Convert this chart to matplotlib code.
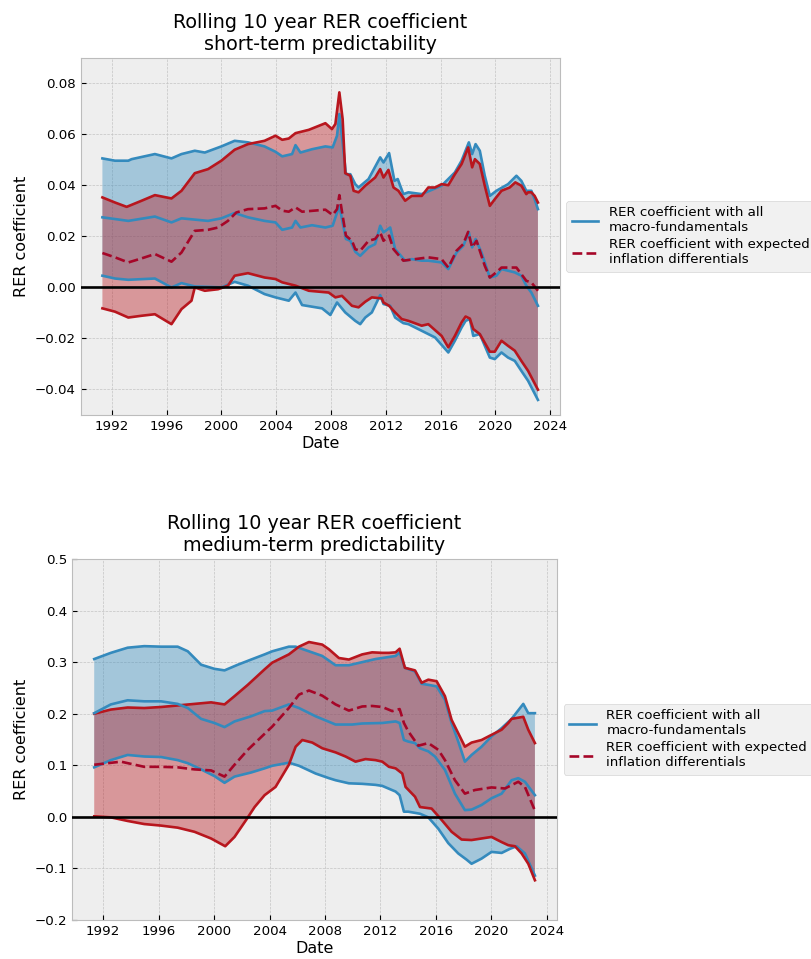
import numpy as np
import matplotlib
matplotlib.use("Agg")
import matplotlib.pyplot as plt
from matplotlib.lines import Line2D
from matplotlib.ticker import MultipleLocator, FormatStrFormatter

# ---------------- short-term predictability (rolling 10y window) ----------------
st_macro_hi_yr = [1991.32, 1992.24, 1993.21, 1993.45, 1995.15, 1996.36, 1997.09, 1998.06, 1998.79, 2000.00,
                  2000.97, 2001.94, 2003.15, 2003.95, 2004.44, 2005.16, 2005.41, 2005.77, 2006.62, 2007.59,
                  2008.12, 2008.44, 2008.61, 2008.85, 2009.09, 2009.41, 2009.77, 2010.01, 2010.74, 2011.59,
                  2011.83, 2012.24, 2012.63, 2012.87, 2013.28, 2013.65, 2014.62, 2016.07, 2017.04, 2017.53,
                  2018.06, 2018.30, 2018.55, 2018.86, 2019.22, 2019.59, 2020.07, 2020.92, 2021.53, 2021.89,
                  2022.25, 2022.62, 2022.86, 2023.10]
st_macro_hi = [.0506, .0497, .0497, .0503, .0523, .0506, .0523, .0536, .0529, .0553,
               .0575, .0569, .0553, .0532, .0514, .0523, .0558, .0529, .0542, .0553,
               .0549, .0595, .0680, .0569, .0444, .0444, .0405, .0392, .0425, .0510,
               .0490, .0527, .0418, .0425, .0366, .0373, .0366, .0399, .0451, .0497,
               .0569, .0523, .0562, .0536, .0438, .0359, .0379, .0405, .0438, .0418,
               .0379, .0379, .0346, .0307]

st_macro_mid_yr = [1991.32, 1993.21, 1995.15, 1996.36, 1997.09, 1999.03, 2000.00, 2000.97, 2001.94, 2003.15,
                   2003.95, 2004.44, 2005.16, 2005.41, 2005.77, 2006.62, 2007.59, 2008.12, 2008.61, 2008.85,
                   2009.09, 2009.41, 2009.77, 2010.13, 2010.74, 2011.22, 2011.59, 2011.83, 2012.32, 2012.68,
                   2013.41, 2013.89, 2014.62, 2015.10, 2016.07, 2016.56, 2017.16, 2017.65, 2018.06, 2018.30,
                   2018.55, 2018.98, 2019.59, 2020.07, 2020.44, 2021.41, 2021.89, 2022.25, 2022.62, 2023.10]
st_macro_mid = [.0275, .0261, .0278, .0255, .0271, .0261, .0271, .0292, .0275, .0261,
                .0255, .0226, .0235, .0261, .0235, .0244, .0235, .0242, .0320, .0255,
                .0190, .0183, .0140, .0124, .0157, .0170, .0242, .0216, .0235, .0150,
                .0105, .0111, .0105, .0105, .0098, .0072, .0137, .0163, .0216, .0157,
                .0190, .0137, .0039, .0046, .0072, .0059, .0046, .0007, -.0020, -.0072]

st_macro_lo_yr = [1991.32, 1992.24, 1993.21, 1995.15, 1996.36, 1997.09, 1998.06, 2000.00, 2000.97, 2001.94,
                  2003.15, 2003.95, 2004.92, 2005.41, 2005.89, 2007.35, 2007.95, 2008.44, 2009.04, 2009.77,
                  2010.13, 2010.50, 2010.98, 2011.59, 2011.83, 2012.32, 2012.68, 2013.28, 2013.65, 2014.62,
                  2015.59, 2016.56, 2017.04, 2017.53, 2017.82, 2018.13, 2018.38, 2018.86, 2019.59, 2019.95,
                  2020.44, 2020.92, 2021.41, 2021.89, 2022.38, 2023.10]
st_macro_lo = [.0046, .0035, .0030, .0035, .0000, .0017, .0004, .0000, .0022, .0007,
               -.0026, -.0039, -.0052, -.0020, -.0069, -.0082, -.0108, -.0059, -.0098, -.0131,
               -.0144, -.0118, -.0098, -.0030, -.0065, -.0072, -.0118, -.0140, -.0144, -.0170,
               -.0196, -.0255, -.0209, -.0157, -.0131, -.0124, -.0190, -.0183, -.0275, -.0281,
               -.0255, -.0275, -.0288, -.0327, -.0366, -.0441]

st_exp_hi_yr = [1991.32, 1992.24, 1993.09, 1994.18, 1995.15, 1996.36, 1997.09, 1998.06, 1999.03, 2000.00,
                2000.97, 2001.94, 2003.15, 2003.95, 2004.44, 2004.92, 2005.41, 2006.38, 2007.59, 2008.07,
                2008.32, 2008.61, 2008.85, 2009.04, 2009.41, 2009.65, 2010.01, 2010.50, 2011.22, 2011.59,
                2011.83, 2012.19, 2012.56, 2012.92, 2013.41, 2013.89, 2014.62, 2015.10, 2015.59, 2016.07,
                2016.56, 2017.04, 2017.53, 2018.01, 2018.30, 2018.50, 2018.86, 2019.22, 2019.59, 2019.95,
                2020.44, 2021.04, 2021.45, 2021.89, 2022.25, 2022.38, 2022.62, 2022.86, 2023.10]
st_exp_hi = [.0353, .0333, .0316, .0340, .0362, .0349, .0379, .0448, .0464, .0497,
             .0540, .0562, .0575, .0595, .0579, .0584, .0605, .0618, .0644, .0621,
             .0641, .0765, .0660, .0448, .0438, .0379, .0373, .0399, .0431, .0464,
             .0431, .0461, .0392, .0379, .0340, .0359, .0359, .0392, .0392, .0405,
             .0401, .0444, .0484, .0549, .0471, .0503, .0484, .0399, .0320, .0346,
             .0379, .0392, .0412, .0399, .0366, .0373, .0373, .0359, .0333]

st_exp_mid_yr = [1991.32, 1992.24, 1993.21, 1994.18, 1995.15, 1996.36, 1997.09, 1998.06, 1999.03, 1999.76,
                 2000.48, 2001.09, 2001.94, 2003.15, 2003.95, 2004.44, 2004.92, 2005.41, 2005.89, 2007.59,
                 2008.12, 2008.44, 2008.61, 2008.85, 2009.09, 2009.53, 2009.77, 2010.13, 2010.74, 2011.22,
                 2011.59, 2011.83, 2012.24, 2012.56, 2013.28, 2014.13, 2015.10, 2016.07, 2016.56, 2017.16,
                 2017.65, 2018.01, 2018.30, 2018.62, 2019.22, 2019.59, 2020.19, 2020.44, 2021.04, 2021.53,
                 2021.89, 2022.25, 2022.62, 2023.10]
st_exp_mid = [.0135, .0118, .0098, .0114, .0131, .0101, .0137, .0222, .0226, .0235,
              .0261, .0294, .0307, .0310, .0320, .0301, .0297, .0314, .0297, .0305,
              .0284, .0307, .0362, .0281, .0203, .0183, .0150, .0144, .0183, .0190,
              .0216, .0183, .0203, .0150, .0105, .0111, .0118, .0111, .0078, .0144,
              .0170, .0218, .0157, .0183, .0085, .0039, .0065, .0078, .0078, .0078,
              .0052, .0026, .0020, -.0013]

st_exp_lo_yr = [1991.32, 1992.24, 1993.21, 1994.18, 1995.15, 1996.36, 1997.09, 1997.82, 1998.06, 1998.79,
                1999.76, 2000.48, 2000.97, 2001.94, 2003.15, 2003.95, 2004.44, 2005.41, 2006.38, 2007.83,
                2008.32, 2008.80, 2009.53, 2010.01, 2010.50, 2010.98, 2011.71, 2011.83, 2012.24, 2012.68,
                2013.16, 2013.65, 2014.62, 2015.10, 2016.07, 2016.56, 2017.04, 2017.53, 2017.82, 2018.13,
                2018.38, 2018.86, 2019.59, 2019.95, 2020.44, 2020.92, 2021.41, 2021.89, 2022.38, 2023.10]
st_exp_lo = [-.0082, -.0095, -.0118, -.0111, -.0105, -.0144, -.0085, -.0052, .0000, -.0013,
             -.0007, .0007, .0046, .0056, .0039, .0033, .0020, .0007, -.0013, -.0020,
             -.0039, -.0033, -.0072, -.0078, -.0056, -.0039, -.0043, -.0059, -.0072, -.0098,
             -.0124, -.0131, -.0150, -.0144, -.0190, -.0235, -.0190, -.0137, -.0114, -.0122,
             -.0163, -.0183, -.0252, -.0252, -.0209, -.0229, -.0248, -.0288, -.0327, -.0401]

# ---------------- medium-term predictability (rolling 10y window) ----------------
mt_macro_hi_yr = [1991.35, 1992.55, 1993.76, 1994.96, 1996.17, 1997.37, 1998.10, 1999.06, 2000.02, 2000.75,
                  2001.71, 2002.67, 2003.64, 2004.19, 2005.39, 2005.88, 2006.84, 2007.80, 2008.76, 2009.72,
                  2010.68, 2011.64, 2012.61, 2013.09, 2013.38, 2013.76, 2014.49, 2014.97, 2015.45, 2016.05,
                  2016.65, 2017.13, 2017.61, 2018.09, 2018.57, 2019.29, 2020.01, 2020.74, 2021.46, 2022.30,
                  2022.66, 2023.14]
mt_macro_hi = [.306, .318, .328, .331, .330, .330, .321, .295, .287, .284,
               .295, .305, .315, .321, .330, .330, .321, .312, .294, .294,
               .300, .306, .310, .312, .319, .289, .282, .258, .256, .253,
               .227, .182, .146, .107, .120, .136, .156, .172, .190, .219,
               .201, .201]

mt_macro_mid_yr = [1991.35, 1992.55, 1993.76, 1994.96, 1996.17, 1997.37, 1998.10, 1999.06, 2000.02, 2000.75,
                   2001.47, 2002.67, 2003.64, 2004.19, 2005.39, 2006.12, 2007.32, 2008.76, 2009.96, 2010.68,
                   2012.13, 2013.09, 2013.38, 2013.69, 2014.00, 2014.49, 2014.85, 2015.45, 2015.93, 2016.65,
                   2017.37, 2018.09, 2018.57, 2019.29, 2020.01, 2020.74, 2021.46, 2021.94, 2022.42, 2023.14]
mt_macro_mid = [.201, .218, .226, .224, .224, .219, .211, .190, .182, .174,
                .185, .195, .205, .206, .218, .211, .195, .179, .179, .181,
                .182, .185, .182, .149, .146, .143, .133, .127, .117, .091,
                .045, .013, .014, .023, .036, .045, .071, .075, .068, .042]

mt_macro_lo_yr = [1991.35, 1992.55, 1993.76, 1994.96, 1996.17, 1997.37, 1998.10, 1999.06, 2000.02, 2000.75,
                  2001.47, 2002.67, 2003.64, 2004.19, 2005.39, 2006.12, 2007.32, 2008.28, 2008.76, 2009.72,
                  2010.68, 2011.64, 2012.13, 2013.09, 2013.38, 2013.69, 2014.00, 2014.85, 2015.45, 2016.17,
                  2016.89, 2017.61, 2018.21, 2018.57, 2019.29, 2020.01, 2020.74, 2021.34, 2021.82, 2022.42,
                  2023.14]
mt_macro_lo = [.096, .110, .120, .117, .116, .110, .104, .092, .079, .066,
               .078, .086, .094, .099, .105, .099, .084, .075, .071, .065,
               .064, .062, .060, .049, .042, .010, .010, .006, -.001, -.023,
               -.051, -.071, -.083, -.091, -.081, -.068, -.070, -.062, -.057, -.071,
               -.114]

mt_exp_hi_yr = [1991.35, 1992.55, 1993.76, 1994.96, 1996.17, 1997.37, 1998.58, 1999.78, 2000.75, 2001.47,
                2002.43, 2003.64, 2004.19, 2005.39, 2006.12, 2006.84, 2007.80, 2008.28, 2009.00, 2009.72,
                2010.68, 2011.40, 2012.13, 2012.61, 2013.09, 2013.38, 2013.76, 2014.49, 2014.97, 2015.45,
                2016.05, 2016.65, 2017.13, 2017.61, 2018.09, 2018.57, 2019.29, 2020.01, 2020.74, 2021.22,
                2021.46, 2022.30, 2022.66, 2023.14]
mt_exp_hi = [.200, .208, .212, .211, .213, .216, .219, .222, .218, .234,
             .256, .286, .299, .315, .330, .339, .334, .325, .308, .305,
             .315, .319, .318, .318, .319, .326, .289, .284, .260, .266,
             .263, .234, .188, .162, .136, .144, .149, .159, .169, .182,
             .190, .194, .169, .143]

mt_exp_mid_yr = [1991.35, 1993.28, 1994.96, 1996.17, 1997.37, 1998.58, 1999.78, 2000.75, 2001.47, 2002.43,
                 2003.64, 2004.19, 2005.39, 2006.12, 2006.84, 2007.80, 2008.76, 2009.72, 2010.68, 2011.40,
                 2012.13, 2012.85, 2013.38, 2013.69, 2014.00, 2014.73, 2015.45, 2016.17, 2016.65, 2017.37,
                 2018.09, 2018.81, 2020.01, 2020.98, 2021.94, 2022.42, 2023.14]
mt_exp_mid = [.101, .107, .097, .097, .096, .092, .090, .078, .101, .130,
              .161, .175, .211, .237, .245, .235, .218, .206, .214, .215,
              .213, .205, .209, .182, .166, .138, .143, .130, .110, .071,
              .045, .052, .057, .055, .068, .058, .012]

mt_exp_lo_yr = [1991.35, 1992.55, 1993.76, 1994.96, 1996.17, 1997.37, 1998.58, 1999.78, 2000.39, 2000.80,
                2001.47, 2002.31, 2002.92, 2003.64, 2004.43, 2005.39, 2005.88, 2006.36, 2007.08, 2007.80,
                2008.76, 2009.48, 2010.20, 2010.92, 2011.64, 2012.13, 2012.61, 2013.09, 2013.57, 2013.81,
                2014.49, 2014.85, 2015.69, 2016.41, 2017.13, 2017.85, 2018.57, 2019.29, 2020.01, 2020.74,
                2021.22, 2021.70, 2022.18, 2022.66, 2023.14]
mt_exp_lo = [.001, -.001, -.008, -.014, -.017, -.021, -.029, -.042, -.051, -.057,
             -.039, -.006, .019, .042, .058, .101, .136, .149, .144, .133,
             .125, .117, .107, .112, .110, .107, .097, .094, .084, .058,
             .039, .019, .016, -.006, -.029, -.044, -.045, -.042, -.039, -.049,
             -.055, -.057, -.071, -.091, -.123]

legend_labels = ["RER coefficient with all\nmacro-fundamentals",
                 "RER coefficient with expected\ninflation differentials"]

# ---------------- styling ----------------
plt.style.use("bmh")
plt.rcParams["font.family"] = ["DejaVu Sans"]
plt.rcParams["font.size"] = 9.6
plt.rcParams["grid.color"] = "#c4c4c4"

BLUE = "#348ABD"
RED = "#B8161E"
RED_DARK = "#A60628"


def band(ax, hi_x, hi_y, mid_x, mid_y, lo_x, lo_y, color, mid_color, mid_style):
    poly_x = np.concatenate([hi_x, lo_x[::-1]])
    poly_y = np.concatenate([hi_y, lo_y[::-1]])
    ax.fill(poly_x, poly_y, color=color, alpha=0.4, linewidth=0, zorder=2)
    ax.plot(hi_x, hi_y, color=color, lw=1.9, zorder=3)
    ax.plot(lo_x, lo_y, color=color, lw=1.9, zorder=3)
    ax.plot(mid_x, mid_y, color=mid_color, lw=1.9, ls=mid_style, zorder=4)


def panel(ax, macro, expected, title, ylim):
    band(ax, *[np.asarray(a) for a in macro], BLUE, BLUE, "-")
    band(ax, *[np.asarray(a) for a in expected], RED, RED_DARK, "--")
    ax.axhline(0, color="black", lw=1.9, zorder=5)
    ax.set_ylim(*ylim)
    ax.xaxis.set_major_locator(MultipleLocator(4))
    ax.xaxis.set_major_formatter(FormatStrFormatter("%d"))
    ax.set_title(title)
    ax.set_xlabel("Date", labelpad=2)
    ax.set_ylabel("RER coefficient")
    handles = [Line2D([], [], color=BLUE, lw=1.9),
               Line2D([], [], color=RED_DARK, lw=1.9, ls="--")]
    ax.legend(handles, legend_labels, loc="center left", bbox_to_anchor=(1.0, 0.5),
              labelspacing=0.3)


fig = plt.figure(figsize=(8.12, 9.59), dpi=100)
fig.patch.set_facecolor("white")

ax_top = fig.add_axes([0.0993, 0.5673, 0.590, 0.3723])
panel(ax_top,
      (st_macro_hi_yr, st_macro_hi, st_macro_mid_yr, st_macro_mid, st_macro_lo_yr, st_macro_lo),
      (st_exp_hi_yr, st_exp_hi, st_exp_mid_yr, st_exp_mid, st_exp_lo_yr, st_exp_lo),
      "Rolling 10 year RER coefficient\nshort-term predictability", (-0.05, 0.09))

ax_bot = fig.add_axes([0.0889, 0.0407, 0.597, 0.3764])
panel(ax_bot,
      (mt_macro_hi_yr, mt_macro_hi, mt_macro_mid_yr, mt_macro_mid, mt_macro_lo_yr, mt_macro_lo),
      (mt_exp_hi_yr, mt_exp_hi, mt_exp_mid_yr, mt_exp_mid, mt_exp_lo_yr, mt_exp_lo),
      "Rolling 10 year RER coefficient\nmedium-term predictability", (-0.2, 0.5))

fig.savefig("out.png", dpi=100)
